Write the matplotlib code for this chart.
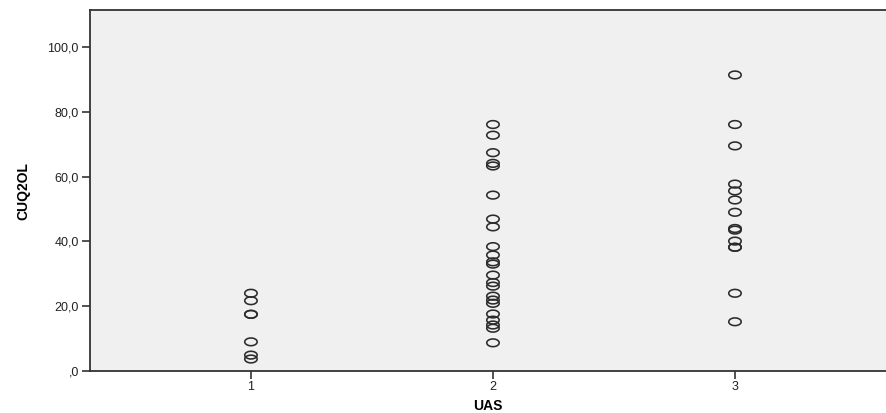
import numpy as np
import matplotlib.pyplot as plt
from matplotlib.ticker import FuncFormatter

plt.rcParams['font.family'] = ['Liberation Sans', 'DejaVu Sans']

# CUQ2OL values per UAS group
uas1 = [24.0, 21.7, 17.5, 17.5, 9.0, 4.9, 3.7]
uas2 = [76.1, 72.8, 67.4, 64.1, 63.3, 54.3, 46.9, 44.5, 38.4, 35.8, 33.7, 33.0,
        29.6, 27.3, 26.2, 23.1, 21.9, 20.9, 17.6, 15.7, 14.2, 13.2, 8.7]
uas3 = [91.4, 76.1, 69.5, 57.7, 55.6, 52.8, 49.0, 44.0, 43.5, 40.1, 38.2, 38.2,
        24.0, 15.2]
groups = [1, 2, 3]
yticks = [0, 20, 40, 60, 80, 100]

# elliptical open marker (wider than tall)
t = np.linspace(0, 2 * np.pi, 60)
ell = np.column_stack([np.cos(t), 0.62 * np.sin(t)])

fig = plt.figure(figsize=(8.86, 4.13), dpi=100)
ax = fig.add_axes([0.1016, 0.1017, 0.8984, 0.8729])
ax.set_facecolor('#f0f0f0')

for g, vals in zip(groups, [uas1, uas2, uas3]):
    ax.scatter([g] * len(vals), vals, marker=ell, s=80, facecolors='none',
               edgecolors='#2b2b2b', linewidths=1.15, zorder=3)

ax.set_xlim(0.335, 3.624)
ax.set_ylim(0, 111.3)
ax.set_xticks(groups)
ax.set_yticks(yticks)
ax.yaxis.set_major_formatter(FuncFormatter(
    lambda v, p: ',0' if v == 0 else f'{v:.1f}'.replace('.', ',')))

for s in ['left', 'bottom', 'top']:
    ax.spines[s].set_color('#333333')
    ax.spines[s].set_linewidth(1.3)
ax.spines['right'].set_visible(False)
ax.tick_params(direction='out', length=6, width=1.2, color='#333333',
               labelsize=9, labelcolor='#222222')
ax.tick_params(axis='x', pad=1.5)
ax.tick_params(axis='y', pad=2)

ax.set_xlabel('UAS', fontsize=10, fontweight='bold', labelpad=4)
ax.set_ylabel('CUQ2OL', fontsize=10, fontweight='bold', labelpad=12)

fig.savefig('out.png', dpi=100)
